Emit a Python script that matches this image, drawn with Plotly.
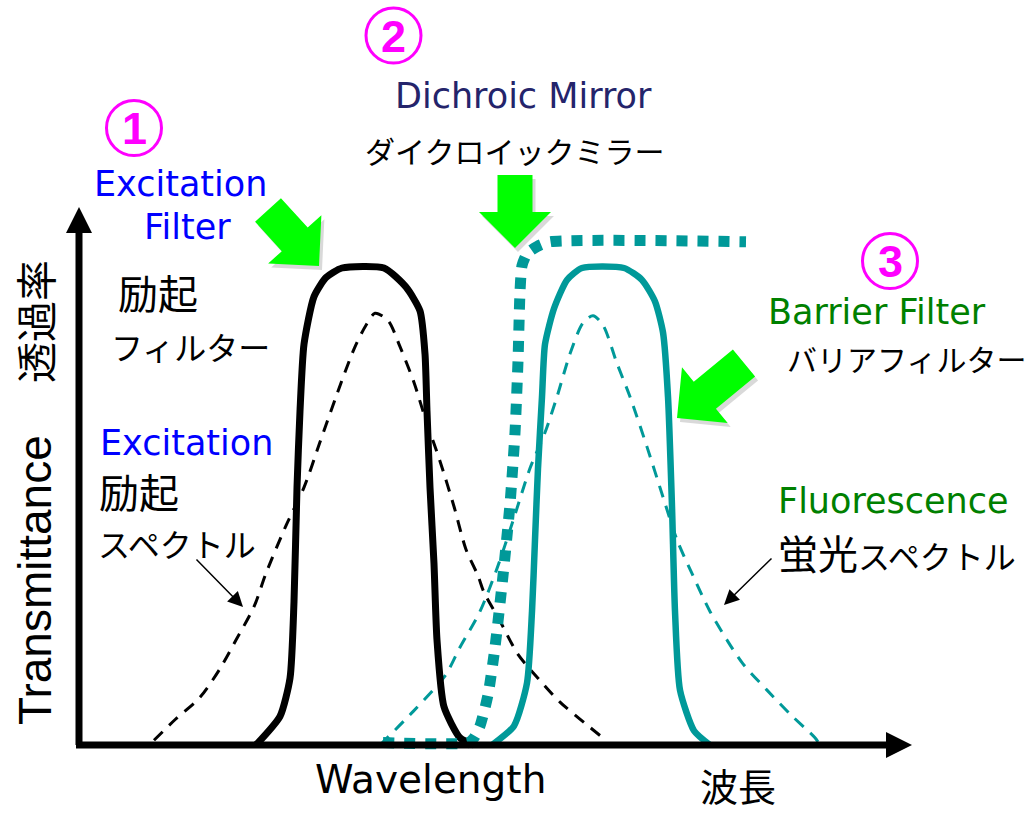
import math
import plotly.graph_objects as go

# ---------------- data (wavelength in nm, transmittance in %) ----------------
exc_filter_wl = [439, 451, 456, 458, 459.5, 461, 463, 468, 474, 482, 503, 514, 521, 523.5,
                 524.5, 526, 528, 529.5, 533, 541, 548]
exc_filter_t = [0, 6, 14, 30, 54, 70, 84, 94, 98, 100, 100, 96, 91, 82, 70, 54, 38, 22, 8, 1.5, 0]

exc_spec_wl = [388, 399, 411, 421, 429, 438, 444, 454, 463, 471, 479, 488, 494, 498.5, 505, 511,
               518, 524, 531, 538, 544, 550, 553, 561, 570, 580, 591, 611]
exc_spec_t = [1, 5.5, 10, 16, 22, 29, 36, 46, 54, 63.5, 73, 83, 88, 90.5, 89, 83.5, 76, 68, 59.5,
              50, 41, 35.5, 32, 26, 19, 14, 9, 2]

barrier_wl = [557, 568, 574.5, 577, 578.5, 580, 582, 583.5, 588, 594.5, 602, 623, 632, 638.5,
              642.5, 645, 647, 648.5, 651, 658, 666]
barrier_t = [0, 4, 13, 28, 43, 58, 73, 84, 91.5, 97.5, 100, 100, 97.5, 93, 86.5, 73, 50, 28,
             11.5, 3, 0]

fluo_wl = [501, 517.5, 533.5, 541, 551, 559.5, 567.5, 576, 583.5, 589.5, 596, 602.5, 607.5,
           612.5, 619.5, 626, 634.5, 642.5, 649.5, 657.5, 666, 674.5, 682.5, 694.5, 706, 718.5, 721]
fluo_t = [0, 7, 14.5, 20.5, 28, 37, 47, 58, 65.5, 73, 82, 88.5, 90, 88, 80, 73, 62.5, 52, 43,
          35.5, 28, 22, 17, 11.5, 6.5, 1.5, 0]

dichroic_wl = [502.5, 545, 548, 551, 555, 558.5, 562.5, 566, 568.5, 570, 571, 572, 574.5, 579.5,
               586, 684]
dichroic_t = [0.5, 0.5, 1.5, 4, 10.5, 20.5, 35.5, 50.5, 65.5, 80.5, 95, 100.5, 103, 104.5,
              105.5, 105.5]

step_labels = ["1", "2", "3"]

# ---------------- layout geometry ----------------
W, H = 1030, 815
# axis origin at pixel (78, 745): 2 px per nm, 4.77 px per % transmittance
X_RANGE = [350 - 78 / 2.0, 350 + (W - 78) / 2.0]
Y_RANGE = [-(H - 745) / 4.77, 745 / 4.77]

TEAL = "#009999"
LAT = "DejaVu Sans"
JP = "Noto Sans CJK JP"
MAG = "#FF00FF"
BLUE = "#0000FF"
GREEN = "#008000"
NAVY = "#24246B"


def P(px, py):
    return px / W, 1 - py / H


fig = go.Figure()

fig.add_trace(go.Scatter(x=exc_spec_wl, y=exc_spec_t, mode="lines",
                         line=dict(color="black", width=3, dash="12px,9px", shape="spline", smoothing=0.8)))
fig.add_trace(go.Scatter(x=fluo_wl, y=fluo_t, mode="lines",
                         line=dict(color=TEAL, width=3, dash="12px,9px", shape="spline", smoothing=0.8)))
fig.add_trace(go.Scatter(x=exc_filter_wl, y=exc_filter_t, mode="lines",
                         line=dict(color="black", width=7, shape="spline", smoothing=0.6)))
fig.add_trace(go.Scatter(x=barrier_wl, y=barrier_t, mode="lines",
                         line=dict(color=TEAL, width=6.5, shape="spline", smoothing=0.6)))
fig.add_trace(go.Scatter(x=dichroic_wl, y=dichroic_t, mode="lines",
                         line=dict(color=TEAL, width=11, dash="11px,10px", shape="spline", smoothing=0.6)))

shapes = []


def poly_path(pts):
    s = ""
    for i, (px, py) in enumerate(pts):
        x, y = P(px, py)
        s += ("M" if i == 0 else "L") + f"{x:.5f},{y:.5f}"
    return s + "Z"


# axes
x0, y0 = P(79, 745)
x1, y1 = P(79, 228)
shapes.append(dict(type="line", xref="paper", yref="paper", x0=x0, y0=y0, x1=x1, y1=y1,
                   line=dict(color="black", width=7)))
shapes.append(dict(type="path", xref="paper", yref="paper",
                   path=poly_path([(79, 207), (66, 233), (92, 233)]), fillcolor="black", line=dict(width=0)))
x0, y0 = P(76, 745)
x1, y1 = P(890, 745)
shapes.append(dict(type="line", xref="paper", yref="paper", x0=x0, y0=y0, x1=x1, y1=y1,
                   line=dict(color="black", width=7)))
shapes.append(dict(type="path", xref="paper", yref="paper",
                   path=poly_path([(912, 745), (886, 732), (886, 758)]), fillcolor="black", line=dict(width=0)))


def block_arrow(tip, tail, sw=35, hw=72, hl=36, off=(0, 0)):
    tx, ty = tip[0] + off[0], tip[1] + off[1]
    bx, by = tail[0] + off[0], tail[1] + off[1]
    L = math.hypot(tx - bx, ty - by)
    ux, uy = (tx - bx) / L, (ty - by) / L
    nx, ny = -uy, ux
    hx, hy = tx - ux * hl, ty - uy * hl
    pts = [(bx + nx * sw / 2, by + ny * sw / 2),
           (hx + nx * sw / 2, hy + ny * sw / 2),
           (hx + nx * hw / 2, hy + ny * hw / 2),
           (tx, ty),
           (hx - nx * hw / 2, hy - ny * hw / 2),
           (hx - nx * sw / 2, hy - ny * sw / 2),
           (bx - nx * sw / 2, by - ny * sw / 2)]
    return poly_path(pts)


arrows = [((319, 266), (268, 210)), ((515, 248), (515, 175)), ((677, 418), (744, 363))]
for tip, tail in arrows:
    shapes.append(dict(type="path", xref="paper", yref="paper", layer="above",
                       path=block_arrow(tip, tail, off=(3, 4)), fillcolor="rgba(0,0,0,0.15)",
                       line=dict(width=0)))
    shapes.append(dict(type="path", xref="paper", yref="paper", layer="above",
                       path=block_arrow(tip, tail), fillcolor="#00FF00", line=dict(width=0)))

annotations = []


def txt(s, px, py, size, color="black", family=LAT, angle=0, yanchor="middle"):
    x, y = P(px, py)
    annotations.append(dict(text=s, x=x, y=y, xref="paper", yref="paper", showarrow=False,
                            xanchor="center", yanchor=yanchor, textangle=angle,
                            font=dict(size=size, color=color, family=family)))


def kj(k, kana, ks=40, ns=30):
    return f"<span style='font-size:{ks}px'>{k}</span><span style='font-size:{ns}px'>{kana}</span>"


# circled step numbers
for lab, (cx, cy) in zip(step_labels, [(134, 128), (393.5, 35.5), (890, 261)]):
    r = 27.5
    ax0, ay0 = P(cx - r, cy + r)
    ax1, ay1 = P(cx + r, cy - r)
    shapes.append(dict(type="circle", xref="paper", yref="paper", x0=ax0, y0=ay0, x1=ax1, y1=ay1,
                       line=dict(color=MAG, width=3)))
    txt(f"<b>{lab}</b>", cx, cy + 1, 45, MAG, "Liberation Sans")

txt("Excitation", 180, 184, 35, BLUE)
txt("Filter", 187, 227, 35, BLUE)
txt("励起", 158, 292, 40, family=JP)
txt("フィルター", 190, 346, 32, family=JP)
txt("Excitation", 186, 443, 35, BLUE)
txt("励起", 139, 491, 40, family=JP)
txt("スペクトル", 177, 543, 32, family=JP)

txt("Dichroic Mirror", 523, 96, 35, NAVY)
txt("ダイクロイックミラー", 514, 150, 30, family=JP)

txt("Barrier Filter", 877, 312, 35, GREEN)
txt("バリアフィルター", 906, 358, 30, family=JP)
txt("Fluorescence", 893, 501, 35, GREEN)
txt(kj("蛍光", "スペクトル", 40, 32), 897, 552, 32, family=JP)

txt("Wavelength", 430, 779, 39, family=LAT)
txt("波長", 738, 814, 38, family=JP, yanchor="bottom")
txt("透過率", 34, 322, 41, family=JP, angle=-90)
txt("Transmittance", 35, 580, 46, family="Liberation Sans", angle=-90)

# thin pointer arrows
for tip, tail in [((243, 607), (195, 558)), ((724, 605), (773, 557))]:
    x, y = P(*tip)
    annotations.append(dict(text="", x=x, y=y, xref="paper", yref="paper", showarrow=True,
                            ax=tail[0] - tip[0], ay=tail[1] - tip[1], arrowhead=2, arrowsize=2,
                            arrowwidth=1.5, arrowcolor="black"))

fig.update_layout(
    width=W, height=H, autosize=False,
    margin=dict(l=0, r=0, t=0, b=0, pad=0),
    paper_bgcolor="white", plot_bgcolor="white",
    showlegend=False,
    xaxis=dict(range=X_RANGE, visible=False, fixedrange=True),
    yaxis=dict(range=Y_RANGE, visible=False, fixedrange=True),
    shapes=shapes, annotations=annotations,
)

fig.write_html("out.html", config={"displayModeBar": False},
               post_script="document.body.style.margin='0px';document.body.style.padding='0px';")
